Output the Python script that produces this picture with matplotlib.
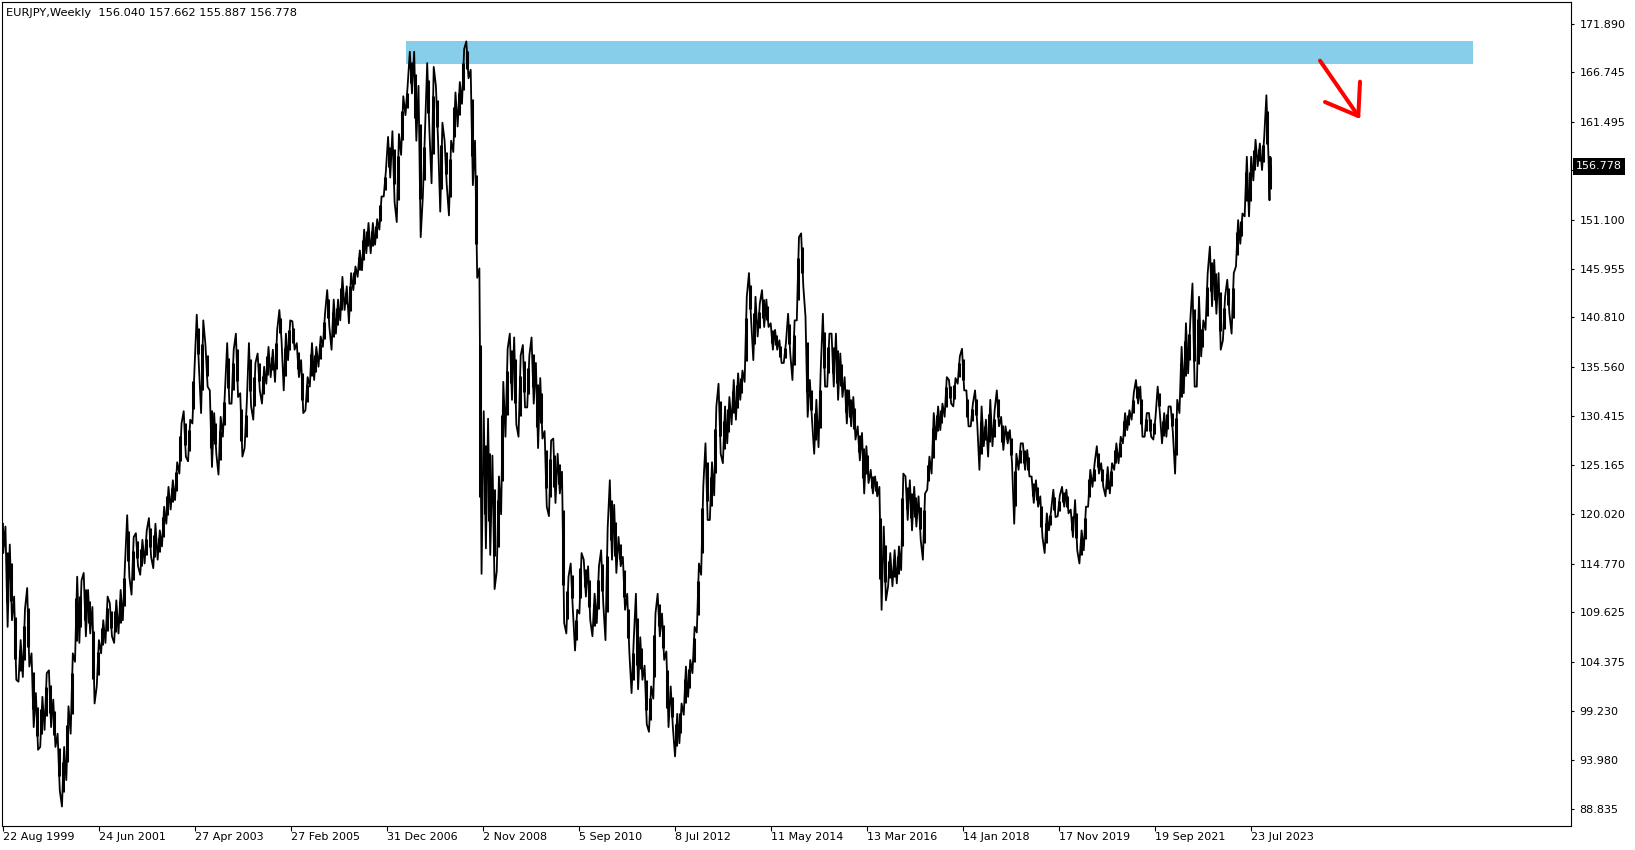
import numpy as np
import pandas as pd
import matplotlib
matplotlib.use("Agg")
import matplotlib.pyplot as plt
from matplotlib.patches import Rectangle

# ---------------- data ----------------
symbol = "EURJPY,Weekly"
last_ohlc = [156.040, 157.662, 155.887, 156.778]   # last weekly bar (O H L C)
first_bar_date = "1999-08-22"
n_bars = 1269                                      # weekly bars, index 0..1268

# monthly highs / lows, Aug 1999 .. Dec 2023
month_high = [
    119.0, 118.7, 116.8, 111.3, 106.7,                                               # 1999 Aug-Dec
    110.0, 112.2, 105.3, 101.1, 100.7, 103.2, 103.5, 100.4, 96.8, 95.4, 99.7, 105.3,  # 2000
    113.4, 113.0, 113.8, 112.0, 110.2, 106.7, 108.8, 111.3, 110.6, 110.9, 112.0, 114.8,  # 2001
    119.9, 117.6, 118.0, 117.3, 118.3, 119.6, 119.0, 118.3, 120.8, 122.9, 123.6, 125.5,  # 2002
    129.6, 130.9, 130.0, 135.6, 141.1, 140.5, 137.9, 133.1, 130.7, 130.3, 133.1, 138.1,  # 2003
    137.4, 139.1, 132.8, 131.7, 138.1, 136.0, 137.0, 135.6, 137.7, 137.4, 139.5, 141.6,  # 2004
    139.1, 140.5, 140.4, 138.1, 136.3, 134.5, 138.1, 137.7, 138.8, 141.2, 143.7, 142.7,  # 2005
    142.7, 145.1, 144.1, 145.5, 146.2, 147.9, 150.1, 150.8, 150.8, 151.2, 153.6, 156.3,  # 2006
    159.9, 160.5, 160.2, 164.2, 165.3, 168.9, 168.9, 165.3, 160.6, 167.7, 167.3, 165.3,  # 2007
    161.4, 159.5, 159.5, 164.6, 165.7, 169.2, 170.0, 167.0, 159.5, 146.0, 130.9, 130.1,  # 2008
    126.2, 124.0, 134.0, 137.5, 139.1, 138.7, 136.8, 137.9, 136.8, 138.7, 136.0, 134.4,  # 2009
    128.8, 127.8, 128.0, 126.4, 124.5, 113.4, 114.8, 109.9, 115.9, 115.2, 114.5, 111.6,  # 2010
    114.5, 116.2, 118.5, 123.6, 121.0, 117.6, 115.5, 111.6, 106.7, 111.6, 107.0, 104.0,  # 2011
    101.8, 109.5, 111.6, 109.5, 105.5, 101.8, 98.9, 100.0, 103.9, 104.6, 108.1, 114.8,   # 2012
    123.0, 127.5, 125.5, 131.4, 133.8, 131.4, 132.4, 134.2, 134.9, 135.2, 143.0, 145.5,  # 2013
    143.0, 142.3, 143.7, 142.7, 140.2, 139.5, 138.4, 138.1, 141.2, 140.5, 149.3, 149.7,  # 2014
    140.9, 134.2, 132.1, 135.2, 141.2, 139.1, 139.1, 139.1, 137.0, 134.5, 133.1, 132.4,  # 2015
    129.3, 128.6, 127.2, 124.7, 124.0, 122.9, 118.7, 115.9, 116.2, 116.6, 124.3, 124.0,  # 2016
    123.6, 122.9, 121.9, 122.2, 126.1, 130.7, 131.4, 131.7, 134.5, 134.2, 134.4, 136.7,  # 2017
    137.5, 133.1, 131.7, 133.1, 131.4, 130.0, 132.1, 131.0, 133.1, 130.3, 129.3, 128.9,  # 2018
    126.4, 127.5, 127.5, 126.8, 124.0, 123.6, 121.9, 120.1, 120.5, 122.6, 122.0, 122.9,  # 2019
    122.6, 120.5, 121.5, 118.3, 120.8, 124.7, 125.4, 127.2, 125.4, 125.0, 125.4, 127.5,  # 2020
    128.2, 130.7, 131.0, 132.8, 134.2, 133.5, 130.7, 130.7, 130.3, 133.5, 130.7, 131.4,  # 2021
    131.4, 132.1, 137.7, 140.2, 140.5, 144.4, 143.0, 140.5, 145.5, 148.3, 146.9, 145.5,  # 2022
    143.0, 144.8, 145.5, 151.1, 151.8, 157.8, 157.8, 159.6, 159.2, 159.9, 164.3, 157.8,  # 2023
]
month_low = [
    115.9, 108.1, 108.8, 102.5, 102.3,                                               # 1999 Aug-Dec
    102.8, 103.9, 97.5, 95.1, 95.4, 97.2, 97.5, 95.4, 90.8, 89.1, 91.9, 96.8,          # 2000
    104.4, 106.4, 107.1, 107.4, 100.0, 101.8, 105.3, 106.4, 107.1, 106.4, 107.4, 108.8,  # 2001
    113.4, 111.5, 114.5, 113.6, 114.8, 115.5, 114.3, 115.2, 116.6, 119.0, 120.5, 121.5,  # 2002
    124.3, 126.1, 125.6, 129.6, 135.6, 130.7, 133.5, 125.0, 126.4, 124.2, 128.2, 131.7,  # 2003
    131.7, 132.4, 126.1, 127.0, 131.4, 130.0, 133.1, 131.7, 133.8, 134.5, 134.0, 138.4,  # 2004
    133.1, 136.3, 137.4, 134.5, 130.7, 131.0, 133.5, 134.2, 135.6, 137.7, 139.8, 137.4,  # 2005
    139.1, 140.5, 141.6, 140.2, 143.7, 145.1, 145.8, 147.6, 147.6, 148.5, 150.1, 153.6,  # 2006
    155.6, 153.0, 150.9, 158.0, 162.2, 164.5, 159.5, 149.3, 153.6, 160.6, 155.0, 159.5,  # 2007
    152.0, 154.8, 151.6, 158.3, 161.0, 163.4, 166.1, 154.8, 145.0, 113.7, 116.4, 115.7,  # 2008
    112.1, 114.0, 120.0, 128.2, 132.1, 129.5, 128.2, 131.3, 131.3, 131.7, 127.0, 128.0,  # 2009
    120.8, 119.8, 121.2, 122.2, 108.5, 107.4, 109.9, 105.6, 109.5, 111.3, 108.8, 107.1,  # 2010
    108.5, 110.5, 106.7, 115.2, 113.8, 114.5, 109.9, 105.3, 101.1, 101.5, 102.5, 97.8,   # 2011
    97.0, 100.5, 107.1, 104.6, 97.5, 97.5, 94.4, 95.8, 98.8, 100.7, 103.2, 107.5,        # 2012
    113.6, 119.4, 119.4, 122.0, 126.4, 125.4, 127.5, 129.5, 130.0, 132.1, 134.0, 140.5,  # 2013
    136.3, 138.8, 139.8, 139.8, 137.4, 137.4, 136.0, 136.0, 137.0, 134.2, 140.5, 144.1,  # 2014
    130.3, 130.0, 126.4, 127.1, 133.5, 133.5, 133.5, 132.1, 132.4, 129.6, 129.3, 127.9,  # 2015
    125.7, 122.2, 123.3, 122.2, 121.9, 109.9, 110.9, 112.4, 112.4, 112.7, 114.1, 119.4,  # 2016
    118.3, 118.7, 117.3, 115.2, 122.6, 124.3, 127.9, 128.9, 130.3, 131.7, 131.4, 133.8,  # 2017
    133.1, 129.3, 129.3, 129.6, 124.7, 127.2, 126.1, 127.2, 129.3, 126.8, 127.5, 125.4,  # 2018
    119.0, 124.7, 124.7, 124.0, 121.2, 120.8, 117.6, 115.9, 118.3, 119.7, 119.8, 120.8,  # 2019
    120.1, 117.6, 116.2, 114.8, 116.2, 120.8, 122.9, 124.3, 122.9, 121.9, 122.2, 124.7,  # 2020
    125.4, 127.5, 128.9, 130.0, 131.7, 128.2, 128.2, 128.2, 127.9, 130.7, 127.5, 128.2,  # 2021
    128.6, 124.3, 130.7, 132.8, 134.9, 133.5, 133.5, 136.7, 139.5, 142.0, 141.2, 137.4,  # 2022
    138.4, 141.2, 139.1, 146.2, 148.6, 151.5, 151.5, 155.3, 156.8, 156.4, 157.5, 153.2,  # 2023
]

# resistance zone (drawn rectangle)
zone_low, zone_high = 167.65, 170.07
zone_start_bar, zone_end_bar = 403, 1470

# hand-drawn arrow (bar index, price)
arrow_shaft = ([1317, 1355.3], [167.96, 162.11])
arrow_arm1 = ([1357, 1355.3], [165.74, 162.11])
arrow_arm2 = ([1322, 1355.3], [163.59, 162.11])

price_ticks = [171.890, 166.745, 161.495, 156.350, 151.100, 145.955, 140.810,
               135.560, 130.415, 125.165, 120.020, 114.770, 109.625, 104.375,
               99.230, 93.980, 88.835]
date_tick_step = 96

# ---------------- figure ----------------
W, H = 1635, 850
fig = plt.figure(figsize=(W / 100, H / 100), dpi=100, facecolor="white")
L, R, T, B = 1.5, 1571, 1.5, 826
ax = fig.add_axes([L / W, 1 - B / H, (R - L) / W, (B - T) / H])
ax.set_facecolor("white")
ax.set_xlim(L - 3, R - 3)                       # bar i sits at pixel 3+i
ax.set_ylim(174.375 - 0.10573 * B, 174.375 - 0.10573 * T)

# price path: zig-zag through monthly extremes + monthly range bars
wk = 52.1775 / 12
last_bar = n_bars - 1
xs, ys = [], []
bx, bl, bh = [], [], []
nm = len(month_high)
for m in range(nm):
    h, l = month_high[m], month_low[m]
    start = wk * m - 3
    pa = min(max(start + 0.25 * wk, 0), last_bar - 1.5)
    pb = min(max(start + 0.75 * wk, 0), last_bar - 1.0)
    mid = (h + l) / 2
    nxt = (month_high[m + 1] + month_low[m + 1]) / 2 if m + 1 < nm else last_ohlc[3]
    first, second = (l, h) if nxt >= mid else (h, l)
    xs += [pa, pb]
    ys += [first, second]
    bx.append((pa + pb) / 2)
    bl.append(l + 0.25 * (h - l))
    bh.append(h - 0.25 * (h - l))
xs += [last_bar, last_bar, last_bar]
ys += [last_ohlc[1], last_ohlc[2], last_ohlc[3]]
ax.vlines(bx, bl, bh, color="black", lw=2.2, zorder=3)
ax.plot(xs, ys, color="black", lw=1.3, zorder=3)

ax.add_patch(Rectangle((zone_start_bar, zone_low), zone_end_bar - zone_start_bar,
                       zone_high - zone_low, facecolor="#87CEEB", edgecolor="none", zorder=1))

for seg in (arrow_shaft, arrow_arm1, arrow_arm2):
    ax.plot(seg[0], seg[1], color="#FF0000", lw=2.9, solid_capstyle="round", zorder=4)

# axes styling
for s in ax.spines.values():
    s.set_color("black")
    s.set_linewidth(0.8)

ax.yaxis.tick_right()
ax.set_yticks(price_ticks)
# the tick under the current-price box has its label hidden by that box
ax.set_yticklabels(["" if abs(v - last_ohlc[3]) < 1.0 else f"{v:.3f}" for v in price_ticks])
ax.tick_params(axis="y", direction="out", length=2.5, width=0.8, pad=3.5,
               labelsize=8, colors="black")

dates = pd.date_range(first_bar_date, periods=n_bars, freq="7D")
tick_idx = np.arange(0, n_bars, date_tick_step)
ax.set_xticks(tick_idx)
ax.set_xticklabels([f"{d.day} {d.strftime('%b %Y')}" for d in dates[tick_idx]], ha="left")
ax.tick_params(axis="x", direction="out", length=3.6, width=0.8, pad=0.5,
               labelsize=8, colors="black")

# current price label
ax.text(1.0031, last_ohlc[3], f"{last_ohlc[3]:.3f}", transform=ax.get_yaxis_transform(),
        color="white", fontsize=8, va="center", ha="left", zorder=10, clip_on=False,
        bbox=dict(boxstyle="square,pad=0.3", fc="black", ec="none"))

# header
fig.text(6 / W, 1 - 12.5 / H,
         f"{symbol}  " + " ".join(f"{v:.3f}" for v in last_ohlc),
         fontsize=8.2, va="center", ha="left", color="black")

fig.savefig("out.png", dpi=100, facecolor="white")
